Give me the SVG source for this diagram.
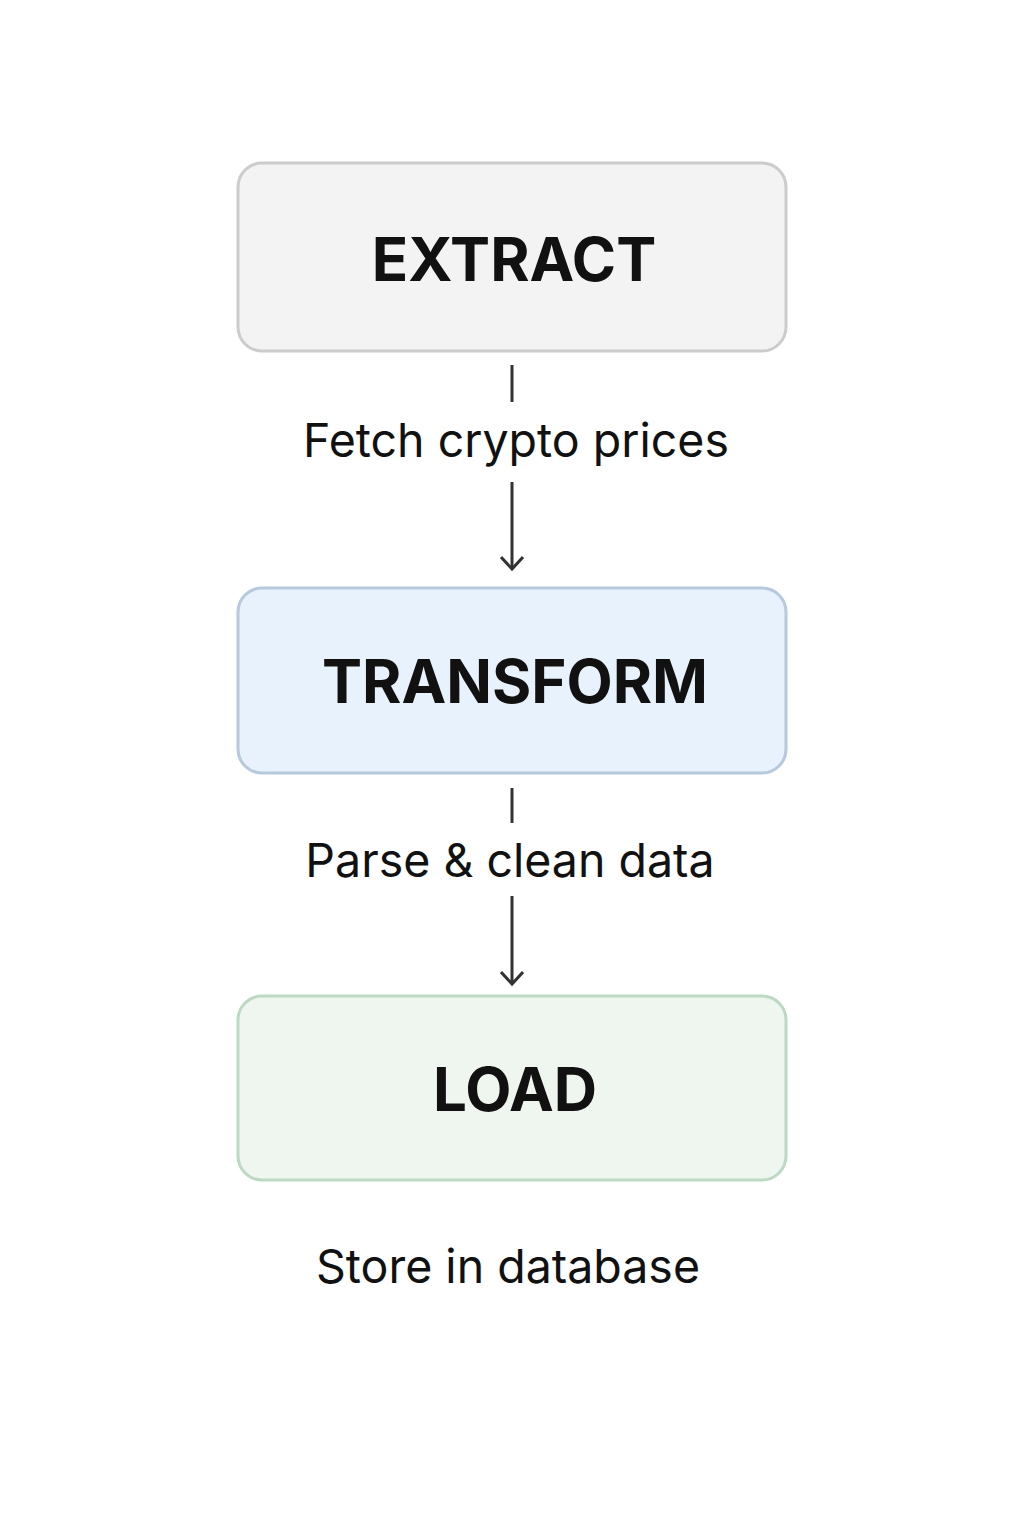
<svg xmlns="http://www.w3.org/2000/svg" width="1024" height="1536" viewBox="0 0 1024 1536">
<style>
.box{stroke-width:3}
.title{font-family:Inter,"Liberation Sans",sans-serif;font-weight:700;font-size:60px;fill:#111;text-anchor:middle}
.label{font-family:Inter,"Liberation Sans",sans-serif;font-size:46.5px;fill:#111;text-anchor:middle}
.conn{stroke:#333;stroke-width:3;fill:none}
</style>
<defs>
<marker id="arr" viewBox="0 0 20 24" refX="17" refY="12" markerWidth="20" markerHeight="24" markerUnits="userSpaceOnUse" orient="auto">
<path d="M5 1 L17 12 L5 23" fill="none" stroke="#333" stroke-width="3"/>
</marker>
</defs>
<rect width="1024" height="1536" fill="#fff"/>
<g id="extract">
<rect class="box" x="238" y="163" width="548" height="188" rx="24" fill="#f3f3f3" stroke="#cccccc"/>
<text class="title" x="514" y="281">EXTRACT</text>
</g>
<g id="transform">
<rect class="box" x="238" y="588" width="548" height="185" rx="24" fill="#e8f2fc" stroke="#b6c9dd"/>
<text class="title" x="515" y="703">TRANSFORM</text>
</g>
<g id="load">
<rect class="box" x="238" y="996" width="548" height="184" rx="24" fill="#eff6f0" stroke="#bcd9c3"/>
<text class="title" x="515" y="1111">LOAD</text>
</g>
<g id="connectors">
<line class="conn" x1="512" y1="365" x2="512" y2="402"/>
<line class="conn" x1="512" y1="482" x2="512" y2="569" marker-end="url(#arr)"/>
<line class="conn" x1="512" y1="788" x2="512" y2="823"/>
<line class="conn" x1="512" y1="896" x2="512" y2="984" marker-end="url(#arr)"/>
</g>
<g id="labels">
<text class="label" x="516" y="457">Fetch crypto prices</text>
<text class="label" x="510" y="877">Parse &amp; clean data</text>
<text class="label" x="508" y="1283">Store in database</text>
</g>
</svg>
